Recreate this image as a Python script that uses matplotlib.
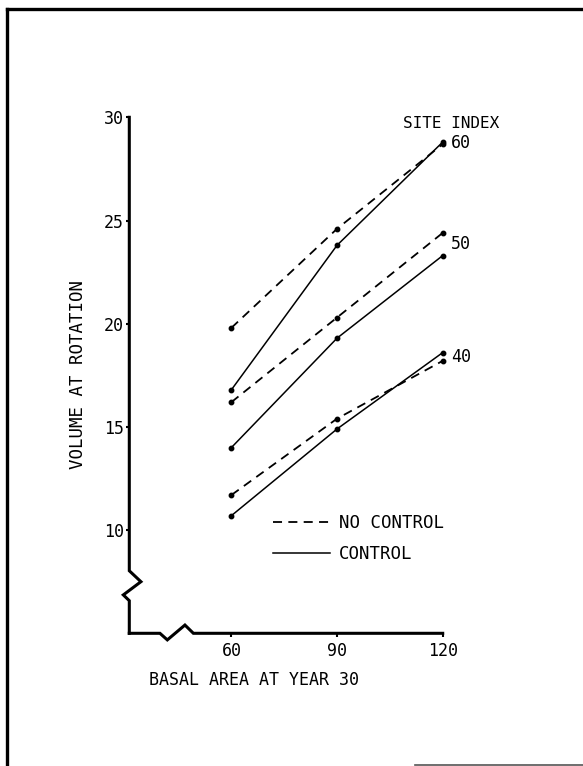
import matplotlib
matplotlib.use("Agg")
import matplotlib.pyplot as plt
from matplotlib.lines import Line2D

# ---- data ----
basal_area = [60, 90, 120]
site_index = ["60", "50", "40"]
no_control = {
    "60": [19.8, 24.6, 28.7],
    "50": [16.2, 20.3, 24.4],
    "40": [11.7, 15.4, 18.2],
}
control = {
    "60": [16.8, 23.8, 28.8],
    "50": [14.0, 19.3, 23.3],
    "40": [10.7, 14.9, 18.6],
}
y_ticks = [10, 15, 20, 25, 30]
x_ticks = [60, 90, 120]

FONT = "DejaVu Sans Mono"
plt.rcParams["font.family"] = FONT

W, H = 583, 766
fig = plt.figure(figsize=(W / 100, H / 100), dpi=100)
fig.patch.set_facecolor("white")

ax = fig.add_axes([129.3 / W, 1 - 633.3 / H, 313.4 / W, (633.3 - 117.3) / H])
ax.set_xlim(31, 120)
ax.set_ylim(5, 30)
for s in ax.spines.values():
    s.set_visible(False)

# axes drawn with break marks
axis_kw = dict(color="black", lw=2.2, clip_on=False, solid_joinstyle="miter")
ax.plot([31, 31, 34.3, 29.3, 31, 31], [30, 8.03, 7.5, 6.86, 6.58, 5], **axis_kw)
ax.plot([31, 39.7, 41.8, 46.8, 49.2, 120], [5, 5, 4.68, 5.4, 5, 5], **axis_kw)

dash = (0, (5, 3.5))
for s in site_index:
    ax.plot(basal_area, no_control[s], color="black", lw=1.3, linestyle=dash,
            marker="o", markersize=3.2, clip_on=False)
    ax.plot(basal_area, control[s], color="black", lw=1.1, linestyle="-",
            marker="o", markersize=3.2, clip_on=False)

# site index labels at the line ends
for s in site_index:
    yv = (no_control[s][-1] + control[s][-1]) / 2
    ax.text(122.3, yv, s, fontsize=12, ha="left", va="center")
ax.text(108.7, 29.72, "SITE INDEX", fontsize=11.5, ha="left", va="center")

ax.set_yticks(y_ticks)
ax.set_xticks(x_ticks)
ax.tick_params(axis="y", direction="out", length=2.5, width=1.5, pad=1.5, labelsize=12)
ax.tick_params(axis="x", direction="out", length=3, width=1.5, pad=3, labelsize=12)

ax.set_xlabel("BASAL AREA AT YEAR 30", fontsize=12)
ax.xaxis.set_label_coords(0.398, -0.0905)
ax.xaxis.label.set_va("center")
ax.set_ylabel("VOLUME AT ROTATION", fontsize=12.5)
ax.yaxis.set_label_coords(-0.1637, 0.5006)
ax.yaxis.label.set_va("center")

handles = [Line2D([], [], color="black", lw=1.3, linestyle=dash),
           Line2D([], [], color="black", lw=1.1)]
ax.legend(handles, ["NO CONTROL", "CONTROL"], loc="center left",
          bbox_to_anchor=(0.4585, 0.1837), frameon=False, fontsize=12.5,
          handlelength=3.3, handletextpad=0.5, labelspacing=0.75,
          borderpad=0, borderaxespad=0)

# page frame
fig.add_artist(Line2D([7 / W, 7 / W], [0, 1 - 9 / H], color="black", lw=2.4,
                      transform=fig.transFigure))
fig.add_artist(Line2D([7 / W, 1], [1 - 9 / H, 1 - 9 / H], color="black", lw=2.4,
                      transform=fig.transFigure))
fig.add_artist(Line2D([415 / W, 1], [1 - 764.5 / H, 1 - 764.5 / H], color="#555555",
                      lw=1.2, transform=fig.transFigure))

fig.savefig("out.png", dpi=100, facecolor="white")
